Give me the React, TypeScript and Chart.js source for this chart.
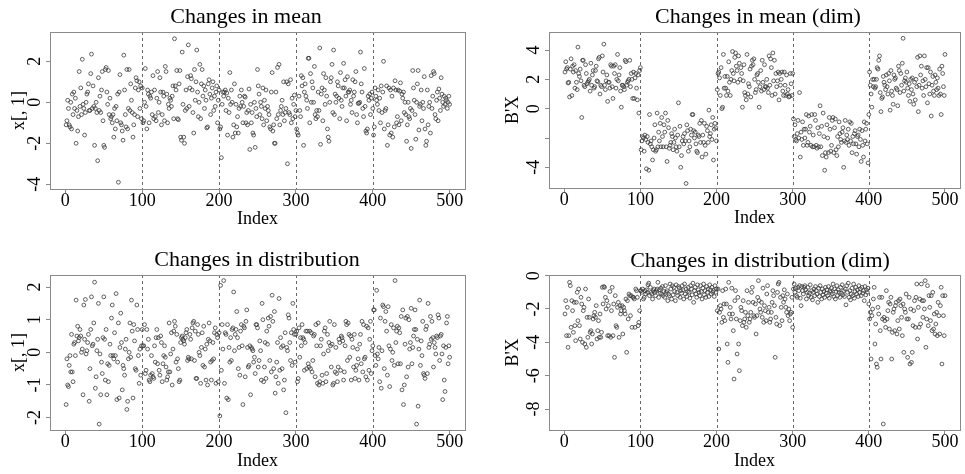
import React, { useEffect, useRef } from "react";
import { Chart, registerables } from "chart.js";

Chart.register(...registerables);

// ---------------- data ----------------
const MEAN_X1: number[] = [
  -1.1, -0.9, 0.1, -0.3, -1.1, -1.2, 0.0, -1.3, 0.4, -0.6,
  0.5, -0.3, 0.2, -2.0, -0.4, -1.4, -0.7, 1.5, -0.2, 0.7,
  -0.6, 2.1, -0.1, -0.3, -1.6, -0.5, 0.0, 0.4, 0.5, 0.9,
  -0.4, -0.4, 1.4, 2.35, -0.3, 0.8, -0.2, -2.1, -0.3, 0.0,
  -0.5, -2.85, 1.2, -0.4, 0.3, -0.5, 0.6, 1.5, -0.9, -2.1,
  -2.2, 1.6, 1.7, 0.5, -0.1, 1.55, -0.6, 0.2, -0.8, -0.7,
  -1.0, -0.6, -1.7, -0.3, -1.3, -0.2, -0.9, 0.4, -3.9, 0.5,
  1.35, -1.0, -1.1, -1.4, -1.85, 2.3, 0.6, -0.6, -1.2, 1.6,
  -1.3, -0.3, 1.6, -0.4, 0.9, 0.1, -0.5, -1.7, -1.1, -0.6,
  0.7, 1.2, 1.05, -0.7, 0.6, 1.0, -0.3, 0.8, -0.8, 0.7,
  -1.0, -0.9, 0.0, 1.65, -0.2, -1.3, 0.6, 0.4, -1.0, 0.3,
  0.2, 0.5, -0.6, 1.3, -0.8, 0.6, -0.7, -0.9, 0.2, 1.5,
  -0.5, 0.0, 1.2, 0.5, -1.1, -0.6, 0.5, 0.3, -0.9, 1.75,
  1.5, 0.4, -1.0, -0.1, -0.3, 0.2, 0.1, -0.2, 0.3, 0.8,
  -0.8, 3.1, 0.8, 0.6, 1.55, -0.8, -0.85, 0.9, 1.55, -1.7,
  -1.85, 2.45, -0.1, -1.7, -2.0, -0.4, 0.6, -0.3, 1.25, 2.8,
  -0.2, 0.7, 1.3, 1.15, 0.6, -0.5, -1.5, 1.6, 0.1, 1.0,
  2.55, 0.5, -0.7, 0.0, 1.85, -0.8, 0.9, 1.6, 0.3, 0.8,
  -0.3, 0.6, 0.1, -1.25, -1.2, 0.9, 1.1, 0.4, -0.6, 0.2,
  0.7, 1.0, -0.4, 0.3, -0.2, 0.5, 0.8, -1.0, 0.1, 0.6,
  -1.3, -1.2, -2.7, -0.1, 0.5, 0.3, 0.5, 0.6, -0.4, 0.45,
  -1.6, 0.2, -0.5, 1.45, -0.1, 0.6, 0.0, -1.7, -1.1, 0.9,
  -1.5, -0.1, -1.2, -0.7, -1.5, -0.3, 0.3, -0.2, 0.6, 0.0,
  -1.0, -0.2, 0.3, 0.25, -1.0, -0.5, -1.1, -0.4, 0.65, -2.3,
  -0.1, -1.0, -0.5, -1.5, -1.6, 0.0, -2.2, -0.3, -0.7, 1.6,
  0.8, 0.4, -0.6, 0.0, -0.2, -0.8, 0.7, -1.1, 0.1, -0.3,
  0.6, -0.9, -0.2, -0.4, -0.6, -1.2, -1.3, 0.5, 1.45, -1.4,
  -1.1, -2.0, -2.0, 0.5, -0.8, 1.7, -0.6, 1.85, -1.1, -0.4,
  -0.2, 0.1, -0.6, 1.0, -0.9, -0.5, -0.3, 1.0, -3.0, 0.9,
  -0.5, -0.6, 1.1, -1.0, 0.2, -0.8, -0.1, 0.35, -0.7, -0.4,
  -1.3, -1.5, -1.6, 0.3, -0.4, -0.7, 1.3, 0.8, 1.2, -2.1,
  0.5, 0.9, 0.3, 0.1, -0.3, 2.15, 2.15, -1.0, 1.4, 0.0,
  1.0, 0.7, 0.0, 1.75, -0.6, -0.8, -0.4, -0.7, 0.5, -0.4,
  2.65, -2.05, 0.4, 0.7, -0.9, 1.4, 0.6, -0.1, 1.2, 0.3,
  -1.3, -1.7, -1.9, 0.0, 1.0, 1.2, 1.85, -0.5, 2.55, -0.6,
  0.4, 0.0, 0.3, 1.0, 0.8, 0.2, -0.8, 1.45, 0.1, -0.2,
  0.7, 1.9, 0.7, 1.1, 0.3, -0.9, 1.25, 0.5, 0.5, 0.6,
  -0.1, 0.1, -0.5, 1.1, 0.3, 0.5, 1.0, 1.5, -0.6, -1.0,
  -0.05, -0.05, 0.0, 2.45, 0.9, 0.5, -0.3, -0.7, 1.65, -0.2,
  -1.4, -1.5, -1.3, 0.3, 0.1, 0.4, -0.6, 0.2, 0.5, -0.3,
  -1.6, -1.2, 0.7, 0.3, 0.1, -0.1, 0.6, -0.4, 0.2, -1.0,
  0.8, -0.5, 0.5, 2.0, -1.3, -0.4, -0.3, 0.8, -2.1, -1.1,
  0.7, -1.6, 0.6, -1.5, 0.3, -1.7, 0.7, -1.2, 1.05, 0.6,
  -1.0, -0.7, 0.6, -1.1, 0.55, 0.95, -0.9, 0.4, 0.2, 0.5,
  -0.5, 0.0, -0.6, -1.9, -1.1, 0.0, -0.7, -0.8, -0.3, -2.25,
  -0.4, 1.55, 0.7, 0.1, -0.6, -1.8, 0.0, 0.9, 1.55, -1.35,
  -0.2, -0.1, 0.6, -0.9, 0.0, -0.3, 1.25, -1.3, -2.1, -1.9,
  0.6, -1.1, -0.2, 0.0, -1.5, 1.3, -0.3, 0.3, 1.5, 1.4,
  -0.6, -0.8, 0.1, 0.5, -0.9, 0.65, 0.2, -0.4, 1.2, 0.4,
  0.0, -0.2, 0.3, -0.1, 0.2, 0.1, -0.3, 0.0, 0.3, -0.1,
];

const MEAN_DIM: number[] = [
  2.5, 3.2, 2.7, 2.8, 1.75, 1.8, 0.8, 2.7, 3.4, 0.9,
  2.9, 2.5, 3.0, 1.4, 2.6, 1.8, 1.3, 4.2, 2.4, 2.2,
  2.7, 1.9, -0.6, 3.3, 3.3, 1.6, 1.5, 3.0, 2.4, 1.7,
  1.8, 1.9, 2.0, 1.2, 3.1, 1.6, 2.3, 2.6, 1.4, 1.5,
  2.6, 2.9, 1.9, 1.85, 3.4, 3.5, 1.0, 1.6, 1.5, 3.6,
  2.5, 4.4, 1.6, 1.3, 1.9, 2.3, 0.5, 1.8, 1.8, 1.4,
  3.0, 2.9, 1.5, 0.7, 2.9, 2.4, 3.0, 1.4, 2.0, 3.7,
  1.9, 2.3, 2.8, 1.2, 0.1, 1.6, 1.6, 1.5, 1.3, 3.3,
  3.2, 1.6, 1.8, 1.9, 2.0, 3.3, 1.5, 2.4, 2.0, 0.7,
  2.5, 0.7, 2.1, 2.4, 1.4, 0.6, 2.3, -0.3, 2.6, 2.8,
  -2.8, -2.2, -1.9, -2.0, -2.9, -1.8, -2.1, -4.1, -1.9, -2.3,
  -4.2, -0.4, -2.4, -2.2, -2.6, -3.5, -2.8, -2.0, -1.1, -2.9,
  -2.8, -0.3, -2.6, -1.6, -2.2, -1.0, -2.6, -0.6, -1.9, -2.6,
  -1.1, -1.6, -0.3, -2.6, -3.6, -0.8, -1.3, -2.7, -2.5, -2.3,
  -1.7, -1.9, -2.8, -2.3, -1.4, -2.0, -2.6, -2.9, -1.8, 0.4,
  -2.6, -1.2, -4.0, -3.2, -2.2, -1.9, -2.4, -1.7, -2.2, -5.1,
  -1.1, -1.5, -2.9, -2.2, -2.6, -1.4, -1.8, -0.4, -0.4, -1.5,
  -2.0, -1.6, -2.4, -2.9, -3.0, -1.8, -1.9, -1.0, -2.3, -0.8,
  -3.3, -1.8, -2.3, -1.0, -2.5, -3.1, -1.2, -1.5, -2.3, -0.1,
  -1.9, -1.7, -1.1, -2.1, -0.6, -3.5, -1.4, -1.0, -1.3, -2.2,
  1.3, 2.4, 2.5, 2.1, 0.9, 2.8, 0.0, 0.1, 3.7, 1.4,
  2.2, 1.4, 0.9, 2.2, 1.2, 3.2, 1.8, 0.9, 2.0, 2.6,
  3.9, 2.4, 1.9, 3.5, 3.8, 2.9, 2.6, 1.8, 3.6, 3.1,
  2.0, 2.8, 2.4, 0.1, 1.9, 3.0, 1.1, 0.9, 0.6, 3.7,
  1.0, 1.7, 1.5, 2.7, 0.8, 2.9, 3.3, 3.0, 3.4, 2.0,
  1.1, 1.3, 2.3, 2.4, 1.8, 0.1, 1.5, 2.6, 1.2, 3.3,
  1.8, 1.3, 3.0, 1.5, 1.5, 2.0, 1.4, 1.1, 3.6, 1.6,
  3.4, 2.8, 0.9, 3.8, 1.9, 3.3, 1.0, 2.4, 1.5, 1.9,
  2.5, 0.6, 2.4, 1.6, 2.0, 2.5, 1.2, 0.9, 2.5, 1.6,
  0.9, 2.3, 1.0, 1.3, 0.8, 0.85, 2.4, 1.7, 0.9, 2.4,
  -0.7, -1.9, -1.1, -2.1, -2.2, -1.7, -0.8, -2.0, 1.1, -3.3,
  -1.6, -2.1, -0.9, -2.5, -1.4, -2.0, -1.4, -0.4, -2.5, -2.3,
  -0.5, -1.6, -1.2, -2.5, -0.4, -2.6, -1.8, -2.6, -0.4, -0.8,
  -2.5, -2.7, -1.3, -2.6, -1.7, 0.2, -2.6, -1.2, -3.2, -0.3,
  -1.9, -4.2, -3.0, -3.3, -1.1, -2.0, -3.0, -0.6, -1.4, -2.9,
  -2.5, -0.8, -0.6, -3.0, -1.3, -0.7, -2.8, -3.2, -1.9, -2.6,
  -0.9, -1.7, -2.1, -2.3, -1.6, -1.3, -4.0, -2.2, -0.8, -2.3,
  -1.8, -2.1, -1.4, -2.5, -0.9, -2.2, -1.0, -3.0, -1.9, -2.4,
  -1.7, -1.5, -2.4, -3.1, -1.9, -1.8, -2.6, -1.4, -2.1, -3.6,
  -1.5, -2.5, -3.3, -0.9, -2.2, -1.4, -1.0, -2.4, -3.7, -0.4,
  2.5, 1.6, 1.0, 0.1, 2.0, 1.5, 2.0, 1.4, 1.5, 2.0,
  2.8, 2.7, 3.3, 3.6, 1.1, -0.2, 0.7, 0.8, 2.2, 1.8,
  1.6, 1.3, 2.3, 1.5, 1.0, 2.4, 1.9, -0.1, 2.6, 1.2,
  0.9, 0.3, 2.3, 2.0, 2.1, 1.4, 1.3, 0.2, 2.9, 2.6,
  1.1, 2.4, 1.6, 3.1, 4.8, 1.2, 1.9, 2.1, 1.8, 2.5,
  1.4, 0.9, 1.7, 0.5, 2.0, 1.3, 2.1, 1.0, 0.3, 1.8,
  0.6, 2.0, 1.5, 3.5, -0.2, 1.6, 3.6, 2.3, 2.9, 1.4,
  1.9, 0.9, 3.6, 2.0, 1.5, 2.8, 0.4, 2.8, 1.7, 1.0,
  2.5, -0.5, 1.6, 2.2, 1.2, 0.9, 2.3, 1.8, 1.3, 2.1,
  1.4, 0.9, 2.7, 1.0, -0.4, 2.9, 2.4, 1.5, 0.9, 3.7,
];

const DIST_X1: number[] = [
  -1.6, -0.2, -1.0, -1.05, -0.4, -0.1, -0.6, 0.55, -0.6, -0.9,
  0.25, 0.3, -0.1, 1.6, 0.5, 0.8, 0.35, 0.45, 0.7, 0.5,
  0.0, 0.1, -1.3, 1.45, 0.4, 1.62, -0.05, 0.05, 0.3, 0.55,
  -1.5, -0.5, 0.7, 1.7, 0.2, 0.25, 0.9, 2.15, -1.1, -0.75,
  0.05, 0.4, 1.5, -2.2, -0.05, -1.3, -0.3, -0.65, 0.45, 1.7,
  0.4, -0.85, 0.7, -1.3, -0.35, -0.9, -0.4, 0.25, -0.1, 1.05,
  1.45, -0.1, -0.2, 0.6, -0.1, 1.8, -1.45, -0.3, 0.9, -1.4,
  0.15, 1.2, 0.3, -1.15, -0.4, -0.5, -0.7, 0.1, 0.4, -1.75,
  -1.5, -0.2, 0.0, 0.9, -0.15, 1.6, 0.65, -1.4, 0.85, 0.35,
  -0.5, -0.55, 1.45, 0.7, -0.1, -0.95, 0.1, -0.7, 0.2, 0.7,
  0.2, 0.2, 0.85, -0.65, -0.55, 0.7, 0.1, 0.4, -0.85, -0.9,
  -0.7, -0.1, -0.65, -0.75, -0.8, 0.2, -0.3, 0.45, 0.7, -0.35,
  0.45, -0.55, -0.7, 0.5, 0.3, -0.9, -0.35, -0.1, 0.2, -0.15,
  -0.45, -0.85, -0.75, -0.6, 0.9, -0.6, -0.05, 0.6, -1.0, 0.1,
  0.65, 0.95, 0.8, -0.3, 0.55, -0.2, -0.5, -0.9, -0.85, 0.3,
  0.45, 0.5, 0.4, 0.35, 0.25, 0.45, 0.6, 0.7, -0.25, -0.15,
  -0.2, 0.55, 0.4, -0.2, 0.75, 0.9, 0.95, -0.25, 0.65, -0.8,
  -0.8, 0.85, 0.55, 0.0, -0.1, -0.95, 0.15, 0.6, -0.4, 0.8,
  -0.45, 0.1, -0.85, 0.25, -1.0, 0.4, 0.9, 0.35, -0.3, -0.85,
  -0.25, 0.3, -0.2, 0.6, 0.75, -0.95, 0.55, 0.45, -0.9, 0.6,
  -1.95, 2.05, -0.55, 0.85, 0.1, 2.2, -0.95, 0.6, 0.55, -1.4,
  0.85, -1.45, 0.15, -0.3, 0.45, -0.25, 0.7, 0.75, 1.85, 0.05,
  0.55, 0.7, 1.25, 0.45, -0.5, 0.15, -0.7, 0.65, 0.85, 0.2,
  -1.6, 0.8, 0.75, -0.75, 0.95, 1.3, 0.15, -0.45, -0.4, 0.2,
  -1.3, 0.15, 0.1, 0.05, -0.3, -0.15, -0.65, 0.85, 0.85, 0.75,
  -0.45, -0.25, 0.35, 0.05, -0.85, 1.5, 1.0, -0.9, -0.45, 0.3,
  -0.8, 0.65, 0.25, 1.05, 0.8, -0.25, 1.1, -0.6, 1.75, 0.95,
  -0.5, 1.25, -1.25, -0.75, -0.3, 0.3, -0.95, 1.65, -0.55, 0.45,
  0.15, -0.5, 0.2, -1.15, -0.85, 0.6, -1.85, 0.15, 0.05, 1.15,
  1.05, 0.3, -0.25, 0.6, -0.4, 1.5, 0.7, 0.55, -0.3, 0.55,
  0.65, -0.9, -0.8, 0.75, -0.15, 0.45, 0.2, 0.85, 0.45, 0.4,
  -0.55, 0.3, 0.65, -0.5, 0.65, -0.35, -0.45, 0.65, -0.5, 0.6,
  -0.6, -0.25, 0.5, 0.55, -0.75, 0.85, 0.2, -0.95, 0.9, -1.0,
  -0.9, 0.2, 0.4, -0.7, -0.95, -0.05, 0.65, 0.75, -0.9, -0.65,
  0.55, 0.05, 0.3, 0.95, 0.2, -0.45, 0.25, -1.0, -0.95, 0.85,
  -0.6, 0.15, -0.65, -0.9, -0.45, 0.4, 0.3, -0.55, 0.5, 0.45,
  0.35, -0.85, -0.6, 0.2, 0.95, 0.85, -0.25, 0.9, 0.55, -0.15,
  0.5, -0.85, 0.4, 0.15, -0.45, 0.55, -0.8, -0.55, -0.4, 0.1,
  -0.2, -0.85, 0.25, 0.55, -0.35, 0.95, -0.6, 0.85, -0.2, -0.15,
  -0.75, 0.8, -0.85, 0.75, -0.55, 0.4, 0.95, -0.65, 0.05, 0.2,
  1.3, 1.3, -0.1, -0.4, 1.9, -0.05, -0.2, 0.15, -0.9, 1.05,
  -1.1, 0.05, 1.45, 1.4, -0.5, 0.95, 1.25, 0.65, -0.7, 1.4,
  0.2, -1.05, 0.1, 0.85, -0.25, 0.0, 0.75, -0.4, 2.2, 0.3,
  0.65, 0.8, -0.35, 0.75, 0.6, -0.35, 1.1, -1.15, 1.3, -1.6,
  -1.0, 0.25, 1.05, -0.75, 1.1, -0.45, 1.0, 0.1, 0.3, 1.35,
  -0.35, 0.15, 0.5, 0.7, 1.3, 0.7, -2.2, 0.4, -1.65, 0.1,
  1.6, -0.4, 0.35, -0.1, 0.95, -0.65, -0.7, -0.8, 0.7, 0.8,
  -0.65, 1.5, 0.15, 0.25, 1.1, 0.4, 0.95, 0.45, -0.45, 0.3,
  0.15, -0.05, 0.5, 0.45, 1.15, 1.05, -0.25, 0.5, 0.55, -0.05,
  -1.45, 0.2, -0.85, -1.2, 0.15, 0.9, 1.1, -0.35, 0.2, -0.15,
];

const DIST_DIM: number[] = [
  -2.3, -1.5, -3.6, -1.9, -4.3, -3.6, -0.4, -0.6, -3.1, -1.5,
  -2.1, -3.4, -1.6, -3.0, -3.9, -1.6, -1.0, -2.7, -0.8, -3.0,
  -3.8, -1.3, -1.7, -4.0, -2.1, -1.9, -4.1, -0.8, -4.3, -2.5,
  -3.7, -1.4, -2.5, -3.4, -3.3, -4.1, -3.5, -2.6, -2.4, -2.2,
  -2.5, -1.8, -3.8, -3.3, -2.7, -3.7, -2.3, -3.7, -3.4, -0.7,
  -1.7, -0.65, -0.7, -1.3, -2.0, -1.5, -3.6, -1.8, -3.6, -0.95,
  -3.7, -2.1, -0.7, -3.6, -1.7, -4.9, -1.2, -3.0, -3.1, -1.9,
  -1.6, -3.7, -1.8, -2.3, -2.1, -1.8, -3.5, -1.9, -2.1, -2.3,
  -1.4, -4.6, -1.5, -2.6, -1.1, -1.2, -2.4, -1.2, -3.1, -1.3,
  -1.3, -1.4, -3.1, -0.8, -0.9, -1.3, -3.0, -2.8, -2.1, -0.9,
  -0.9, -1.0, -0.8, -1.4, -1.3, -0.9, -1.1, -0.85, -1.0, -0.55,
  -0.45, -1.2, -0.7, -1.0, -1.1, -1.4, -0.9, -0.8, -1.0, -1.2,
  -0.9, -0.8, -0.4, -1.3, -0.85, -1.05, -0.75, -1.1, -0.65, -1.2,
  -0.95, -1.3, -0.6, -1.0, -0.9, -1.5, -1.1, -1.2, -0.5, -0.8,
  -1.4, -0.6, -1.15, -0.7, -0.95, -1.5, -0.55, -1.0, -1.2, -0.65,
  -0.75, -1.3, -0.9, -1.05, -0.6, -0.85, -1.4, -0.5, -1.1, -0.8,
  -1.25, -0.95, -0.7, -1.0, -1.35, -0.6, -0.8, -1.15, -0.45, -1.6,
  -0.9, -0.7, -1.1, -1.3, -0.55, -0.85, -1.0, -1.2, -0.6, -0.95,
  -1.4, -0.75, -0.5, -1.15, -0.9, -1.3, -0.65, -1.0, -0.8, -1.25,
  -0.55, -0.85, -1.1, -0.7, -1.0, -0.9, -1.25, -0.6, -1.0, -0.8,
  -2.1, -0.8, -4.4, -2.2, -1.8, -2.0, -2.8, -0.9, -2.5, -1.7,
  -2.7, -0.8, -1.7, -4.1, -5.2, -0.4, -2.3, -1.9, -2.6, -0.75,
  -2.3, -3.3, -6.2, -1.5, -0.9, -2.6, -4.7, -1.3, -4.1, -5.7,
  -2.7, -1.9, -2.1, -3.0, -1.5, -2.8, -2.6, -2.2, -3.1, -0.9,
  -2.4, -1.6, -2.8, -2.6, -2.2, -1.0, -0.7, -1.6, -2.4, -2.5,
  -1.7, -3.5, -2.4, -1.3, -0.3, -1.5, -2.0, -2.2, -1.6, -2.5,
  -0.75, -2.8, -1.8, -2.1, -2.7, -1.1, -0.6, -2.2, -1.9, -2.8,
  -2.6, -2.2, -1.6, -0.9, -1.2, -1.8, -4.9, -2.5, -2.9, -1.0,
  -0.5, -0.4, -3.0, -1.3, -1.9, -2.7, -1.2, -1.6, -0.85, -1.4,
  -1.9, -2.2, -1.1, -2.4, -2.0, -2.7, -2.3, -2.2, -1.3, -3.1,
  -0.8, -0.5, -1.0, -0.75, -1.2, -1.3, -0.7, -0.9, -0.6, -1.35,
  -1.8, -0.65, -0.9, -1.1, -0.7, -0.6, -0.85, -1.4, -1.0, -0.7,
  -1.2, -1.05, -0.55, -1.3, -0.9, -1.45, -1.0, -0.8, -1.2, -0.65,
  -0.9, -1.1, -1.6, -0.75, -1.25, -0.6, -1.0, -1.4, -0.8, -1.15,
  -0.95, -1.3, -0.7, -1.05, -0.85, -1.2, -0.65, -1.35, -0.9, -1.0,
  -0.75, -1.1, -0.5, -1.25, -0.8, -1.4, -0.95, -0.6, -1.2, -0.85,
  -1.0, -1.3, -0.7, -1.05, -0.55, -1.15, -0.9, -1.25, -0.8, -1.75,
  -0.6, -1.0, -0.45, -1.3, -0.9, -1.45, -1.1, -0.75, -1.2, -0.5,
  -1.35, -0.95, -0.7, -1.1, -0.85, -1.25, -0.6, -1.0, -0.8, -1.2,
  -0.7, -1.05, -0.9, -1.5, -0.65, -1.15, -0.85, -1.0, -0.75, -1.7,
  -2.6, -2.2, -5.0, -2.4, -2.0, -1.4, -0.7, -4.1, -2.9, -5.3,
  -5.5, -1.9, -2.3, -1.3, -3.3, -5.0, -1.3, -2.6, -8.9, -2.5,
  -2.7, -3.1, -0.9, -2.6, -2.1, -1.6, -3.2, -1.7, -1.3, -5.0,
  -3.4, -2.2, -2.0, -3.3, -1.8, -1.6, -3.5, -2.7, -1.5, -3.2,
  -1.4, -1.8, -2.5, -3.6, -1.7, -4.6, -2.0, -2.2, -1.1, -2.6,
  -4.9, -2.6, -1.3, -5.3, -2.0, -5.2, -4.6, -3.0, -2.1, -1.5,
  -3.1, -1.3, -0.5, -3.8, -1.9, -3.1, -1.4, -2.9, -0.5, -1.5,
  -2.5, -1.5, -2.0, -0.3, -4.3, -2.6, -0.6, -3.0, -1.2, -1.9,
  -2.7, -1.2, -3.3, -1.0, -3.2, -2.3, -3.5, -2.9, -2.2, -3.6,
  -1.6, -2.4, -3.5, -1.8, -0.7, -5.3, -1.2, -2.4, -3.6, -1.2,
];

const X_TICKS = [0, 100, 200, 300, 400, 500];
const X_TICK_LABELS = ["0", "100", "200", "300", "400", "500"];
const CHANGE_POINTS = [100, 200, 300, 400];

const Y_TICKS_MEAN_X1 = [-4, -2, 0, 2];
const Y_LABELS_MEAN_X1 = ["-4", "-2", "0", "2"];
const Y_TICKS_MEAN_DIM = [-4, -2, 0, 2, 4];
const Y_LABELS_MEAN_DIM = ["-4", "", "0", "2", "4"];
const Y_TICKS_DIST_X1 = [-2, -1, 0, 1, 2];
const Y_LABELS_DIST_X1 = ["-2", "-1", "0", "1", "2"];
const Y_TICKS_DIST_DIM = [-8, -6, -4, -2, 0];
const Y_LABELS_DIST_DIM = ["-8", "-6", "-4", "-2", "0"];

const TITLES = ["Changes in mean", "Changes in mean (dim)", "Changes in distribution", "Changes in distribution (dim)"];
const Y_TITLES = ["x[, 1]", "B'X", "x[, 1]", "B'X"];
const X_TITLE = "Index";

// ---------------- layout / style ----------------
const FONT = "'Liberation Serif', 'Times New Roman', serif";
const FRAME = "#8a8a8a";

type Panel = {
  values: number[];
  yTicks: number[];
  yLabels: string[];
  yMin: number;
  yMax: number;
  title: string;
  yTitle: string;
  left: number; top: number; w: number; h: number;
  areaL: number; areaR: number; areaT: number; areaB: number;
  padL: number; padB: number;
  titleX: number; titleY: number;
};

const PANELS: Panel[] = [
  { values: MEAN_X1, yTicks: Y_TICKS_MEAN_X1, yLabels: Y_LABELS_MEAN_X1, yMin: -4.23, yMax: 3.43,
    title: TITLES[0], yTitle: Y_TITLES[0],
    left: 0, top: 0, w: 482, h: 237, areaL: 50, areaR: 465, areaT: 32, areaB: 189, padL: 8, padB: 7, titleX: 246, titleY: 22.5 },
  { values: MEAN_DIM, yTicks: Y_TICKS_MEAN_DIM, yLabels: Y_LABELS_MEAN_DIM, yMin: -5.41, yMax: 5.23,
    title: TITLES[1], yTitle: Y_TITLES[1],
    left: 482, top: 0, w: 483, h: 237, areaL: 67, areaR: 481, areaT: 32, areaB: 188, padL: 20, padB: 8, titleX: 276, titleY: 23 },
  { values: DIST_X1, yTicks: Y_TICKS_DIST_X1, yLabels: Y_LABELS_DIST_X1, yMin: -2.38, yMax: 2.37,
    title: TITLES[2], yTitle: Y_TITLES[2],
    left: 0, top: 237, w: 482, h: 237, areaL: 50, areaR: 465, areaT: 38, areaB: 193, padL: 8, padB: 2, titleX: 257, titleY: 28.5 },
  { values: DIST_DIM, yTicks: Y_TICKS_DIST_DIM, yLabels: Y_LABELS_DIST_DIM, yMin: -9.26, yMax: 0.04,
    title: TITLES[3], yTitle: Y_TITLES[3],
    left: 482, top: 237, w: 483, h: 237, areaL: 67, areaR: 481, areaT: 38, areaB: 193, padL: 20, padB: 2, titleX: 278, titleY: 29.5 },
];

function makeChart(canvas: HTMLCanvasElement, p: Panel) {
  const yWidth = p.areaL - p.padL;
  const xHeight = p.h - p.padB - p.areaB;

  const decor = {
    id: "rdecor",
    beforeDatasetsDraw(chart: any) {
      const { ctx, chartArea } = chart;
      const xs = chart.scales.x;
      ctx.save();
      ctx.strokeStyle = "#666";
      ctx.lineWidth = 1;
      ctx.setLineDash([3, 3]);
      CHANGE_POINTS.forEach((v) => {
        const x = Math.round(xs.getPixelForValue(v)) + 0.5;
        ctx.beginPath();
        ctx.moveTo(x, chartArea.top);
        ctx.lineTo(x, chartArea.bottom);
        ctx.stroke();
      });
      ctx.restore();
    },
    afterDraw(chart: any) {
      const { ctx, chartArea } = chart;
      const ys = chart.scales.y;
      ctx.save();
      // box
      ctx.strokeStyle = FRAME;
      ctx.lineWidth = 1;
      ctx.strokeRect(
        Math.round(chartArea.left) + 0.5,
        Math.round(chartArea.top) + 0.5,
        Math.round(chartArea.right) - Math.round(chartArea.left),
        Math.round(chartArea.bottom) - Math.round(chartArea.top)
      );
      // rotated y tick labels (R style, las = 0)
      ctx.fillStyle = "#000";
      ctx.font = `18px ${FONT}`;
      ctx.textAlign = "center";
      ctx.textBaseline = "alphabetic";
      p.yTicks.forEach((v, i) => {
        const label = p.yLabels[i];
        if (!label) return;
        const y = ys.getPixelForValue(v);
        ctx.save();
        ctx.translate(chartArea.left - 10.5, y);
        ctx.rotate(-Math.PI / 2);
        ctx.fillText(label, 0, 0);
        ctx.restore();
      });
      // main title
      ctx.font = `22px ${FONT}`;
      ctx.textAlign = "center";
      ctx.fillText(p.title, p.titleX, p.titleY);
      ctx.restore();
    },
  };

  return new Chart(canvas, {
    type: "scatter",
    data: {
      datasets: [
        {
          data: p.values.map((v, i) => ({ x: i + 1, y: v })),
          pointStyle: "circle",
          pointRadius: 1.9,
          pointBorderWidth: 0.8,
          borderColor: "#3a3a3a",
          backgroundColor: "rgba(0,0,0,0)",
          pointBackgroundColor: "rgba(0,0,0,0)",
          pointBorderColor: "#3a3a3a",
          showLine: false,
        },
      ],
    },
    options: {
      animation: false,
      responsive: false,
      events: [],
      layout: {
        padding: { left: p.padL, right: p.w - p.areaR, top: p.areaT, bottom: p.padB },
      },
      plugins: {
        legend: { display: false },
        tooltip: { enabled: false },
        title: { display: false },
      },
      scales: {
        x: {
          type: "linear",
          min: -20,
          max: 520,
          afterBuildTicks: (scale: any) => {
            scale.ticks = X_TICKS.map((value) => ({ value }));
          },
          afterFit: (scale: any) => {
            scale.height = xHeight;
          },
          grid: { drawOnChartArea: false, drawTicks: true, tickLength: 4, color: FRAME, lineWidth: 1 },
          border: { display: true, color: FRAME, width: 1 },
          ticks: {
            autoSkip: false,
            maxRotation: 0,
            minRotation: 0,
            padding: -3,
            color: "#000",
            font: { family: FONT, size: 18 },
            callback: (value: any) => {
              const i = X_TICKS.indexOf(Number(value));
              return i >= 0 ? X_TICK_LABELS[i] : "";
            },
          },
          title: {
            display: true,
            text: X_TITLE,
            color: "#000",
            font: { family: FONT, size: 18 },
            padding: { top: 0, bottom: 0 },
          },
        },
        y: {
          type: "linear",
          min: p.yMin,
          max: p.yMax,
          afterBuildTicks: (scale: any) => {
            scale.ticks = p.yTicks.map((value) => ({ value }));
          },
          afterFit: (scale: any) => {
            scale.width = yWidth;
          },
          grid: { drawOnChartArea: false, drawTicks: true, tickLength: 4, color: FRAME, lineWidth: 1 },
          border: { display: true, color: FRAME, width: 1 },
          ticks: { display: false },
          title: {
            display: true,
            text: p.yTitle,
            color: "#000",
            font: { family: FONT, size: 18 },
            padding: { top: 0, bottom: 0 },
          },
        },
      },
    },
    plugins: [decor],
  } as any);
}

function PanelChart({ p }: { p: Panel }) {
  const ref = useRef<HTMLCanvasElement | null>(null);
  useEffect(() => {
    if (!ref.current) return;
    const chart = makeChart(ref.current, p);
    return () => chart.destroy();
  }, [p]);
  return (
    <canvas
      ref={ref}
      width={p.w}
      height={p.h}
      style={{ position: "absolute", left: p.left, top: p.top, width: p.w, height: p.h }}
    />
  );
}

export default function App() {
  return (
    <div style={{ position: "fixed", left: 0, top: 0, width: 965, height: 474, background: "#fff" }}>
      {PANELS.map((p, i) => (
        <PanelChart key={i} p={p} />
      ))}
    </div>
  );
}
